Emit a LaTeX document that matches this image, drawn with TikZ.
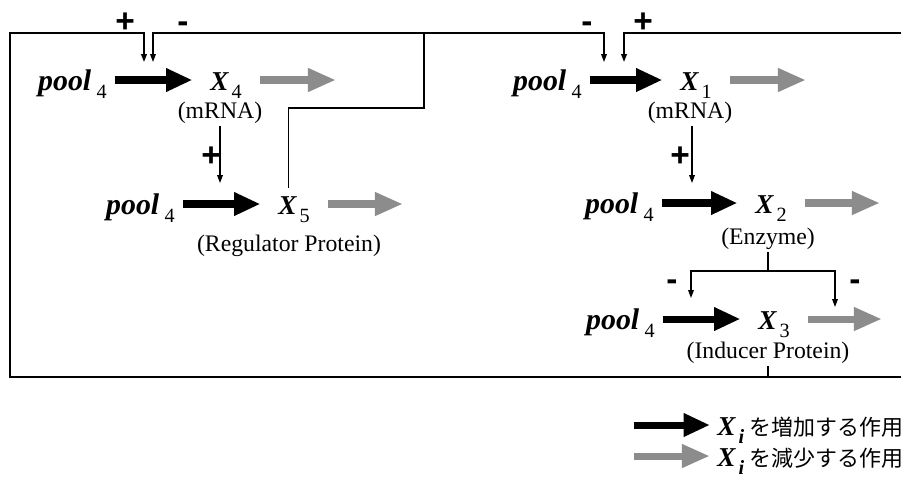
\documentclass[tikz,border=0pt]{standalone}
\usepackage{fontspec}
\setmainfont{Liberation Serif}
\setsansfont{Liberation Sans}
\newfontfamily\cjk{Noto Sans CJK JP}
\usepackage{tikz}
\usetikzlibrary{arrows.meta,calc,positioning}

\newcommand{\spc}[2]{\textbf{\textit{#1}}\kern1.5pt\raisebox{-4.5pt}{\fontsize{11.5}{11.5}\selectfont #2}}
\newcommand{\pool}{{\fontsize{17}{17}\selectfont\spc{pool}{\kern1.5pt 4}}}

\begin{document}
\begin{tikzpicture}[
  x=0.2mm,y=-0.2mm,
  >={Triangle[length=4.5pt,width=3.2pt]},
  species/.style={inner sep=0pt,text height=15pt,text depth=3pt,font=\fontsize{15.5}{15.5}\selectfont},
  note/.style={inner sep=1pt,font=\fontsize{13.5}{14}\selectfont},
  sign/.style={inner sep=0pt,font=\fontsize{19}{19}\selectfont\sffamily\bfseries},
  boost/.style={line width=4pt,-{Triangle[length=15pt,width=12.5pt]},shorten <=4.5pt,shorten >=10pt},
  decay/.style={line width=4pt,black!45,-{Triangle[length=16pt,width=12.5pt]},shorten <=10pt},
  link/.style={line width=0.7pt},
  frame/.style={line width=0.9pt}
]
\path[use as bounding box,fill=white] (0,0) rectangle (901,482);

\node[species,anchor=east] (poolA) at (107,80) {\pool};
\node[species,anchor=west] (xfour) at (210,80) {\spc{X}{4}};
\node[note] (mfour) at (220,113) {(mRNA)};
\coordinate (dfour) at (336,80);

\node[species,anchor=east] (poolB) at (175,204) {\pool};
\node[species,anchor=west] (xfive) at (278,204) {\spc{X}{5}};
\node[note] (regfive) at (289,246) {(Regulator Protein)};
\coordinate (dfive) at (403,204);

\node[species,anchor=east] (poolC) at (582,80) {\pool};
\node[species,anchor=west] (xone) at (680,80) {\spc{X}{1}};
\node[note] (mone) at (690,113) {(mRNA)};
\coordinate (done) at (806,80);

\node[species,anchor=east] (poolD) at (654,203) {\pool};
\node[species,anchor=west] (xtwo) at (755,203) {\spc{X}{2}};
\node[note] (enztwo) at (768,239) {(Enzyme)};
\coordinate (dtwo) at (880,203);

\node[species,anchor=east] (poolE) at (655,319) {\pool};
\node[species,anchor=west] (xthree) at (758,319) {\spc{X}{3}};
\node[note] (indthree) at (768,353) {(Inducer Protein)};
\coordinate (dthree) at (882,319);

\draw[boost] (poolA) -- (xfour);
\draw[boost] (poolB) -- (xfive);
\draw[boost] (poolC) -- (xone);
\draw[boost] (poolD) -- (xtwo);
\draw[boost] (poolE) -- (xthree);
\draw[decay] (xfour) -- (dfour);
\draw[decay] (xfive) -- (dfive);
\draw[decay] (xone) -- (done);
\draw[decay] (xtwo) -- (dtwo);
\draw[decay] (xthree) -- (dthree);

\coordinate (tipfourp) at (144,62);
\coordinate (tipfourm) at (153,62);
\coordinate (tiponem) at (604,62);
\coordinate (tiponep) at (624,62);
\coordinate (tipfive) at (220,183);
\coordinate (tiptwo) at (692,183);
\coordinate (bend) at (424,108);
\coordinate (hub) at (424,33);
\coordinate (fork) at (768,271);
\coordinate (tipthree) at (691,298);
\coordinate (tipdeg) at (835,307);
\coordinate (base) at (768,377);
\coordinate (eastin) at (901,33);
\coordinate (eastout) at (901,377);

\draw[frame,->] (indthree.south) -- (base) -| (10,33) -| (tipfourp);
\draw[frame] (base) -- (eastout);
\draw[frame,->] (eastin) -| (tiponep);
\draw[link] ([xshift=-3pt]xfive.north) |- (bend) -- (hub);
\draw[link,->] (hub) -| (tipfourm);
\draw[link,->] (hub) -| (tiponem);
\draw[link,->] (mfour.south) -- (tipfive);
\draw[link,->] (mone.south -| tiptwo) -- (tiptwo);
\draw[link] (enztwo.south) -- (fork);
\draw[link,->] (fork) -| (tipthree);
\draw[link,->] (fork) -| (tipdeg);

\node[sign] (sgfourp) at (125,23) {+};
\node[sign] (sgfourm) at (183,27) {-};
\node[sign] (sgonem) at (587,27) {-};
\node[sign] (sgonep) at (643,23) {+};
\node[sign] (sgfive) at (211,157) {+};
\node[sign] (sgtwo) at (680,157) {+};
\node[sign] (sgthree) at (672,285) {-};
\node[sign] (sgdeg) at (855,285) {-};

\coordinate (keyup) at (634,425);
\coordinate (keydown) at (634,456);
\node[species,anchor=west] (legup) at (717,425)
  {\spc{X}{\textbf{\textit{i}}}\kern3pt{\cjk\fontsize{12.5}{12.5}\selectfont を増加する作用}};
\node[species,anchor=west] (legdown) at (717,456)
  {\spc{X}{\textbf{\textit{i}}}\kern3pt{\cjk\fontsize{12.5}{12.5}\selectfont を減少する作用}};
\draw[boost,shorten <=0pt,shorten >=4pt] (keyup) -- (keyup -| legup.west);
\draw[decay,shorten <=0pt,shorten >=4pt] (keydown) -- (keydown -| legdown.west);
\end{tikzpicture}
\end{document}
